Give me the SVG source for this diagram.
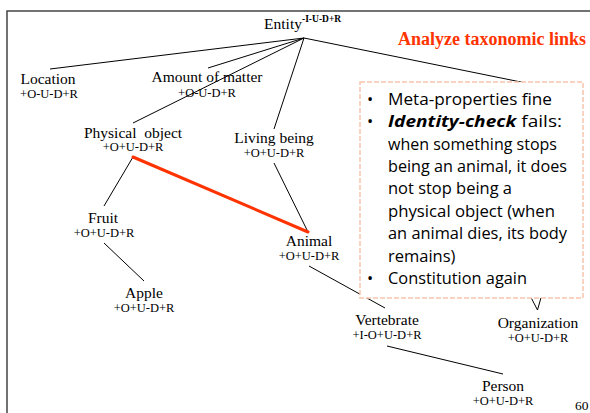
<svg xmlns="http://www.w3.org/2000/svg" width="590" height="413" viewBox="0 0 590 413">
  <style>
    .name { font-family: "Liberation Serif", "Times New Roman", serif; font-size: 15.5px; fill: #000; text-anchor: middle; }
    .code { font-family: "Liberation Serif", "Times New Roman", serif; font-size: 12.5px; fill: #000; text-anchor: middle; }
    .edge { stroke: #000; stroke-width: 1; fill: none; }
    .note { font-family: "Open Sans", "DejaVu Sans", sans-serif; font-size: 16.5px; fill: #000; }
  </style>

  <rect x="0" y="0" width="590" height="413" fill="#fff"/>

  <!-- slide frame -->
  <polyline points="7,413 7,11 590,11" fill="none" stroke="#444" stroke-width="1.5"/>

  <!-- title -->
  <text x="586" y="45" text-anchor="end" font-family="Liberation Serif, serif" font-size="18" font-weight="bold" fill="#ff3300">Analyze taxonomic links</text>

  <!-- taxonomic links -->
  <g id="connectors">
    <line class="edge" x1="304" y1="38" x2="50" y2="69"/>
    <line class="edge" x1="304" y1="38" x2="208" y2="68"/>
    <line class="edge" x1="304" y1="38" x2="133" y2="123"/>
    <line class="edge" x1="304" y1="38" x2="274" y2="129"/>
    <line class="edge" x1="304" y1="38" x2="575" y2="93"/>
    <line class="edge" x1="133" y1="157" x2="104" y2="206"/>
    <line class="edge" x1="104" y1="243" x2="144" y2="281"/>
    <line class="edge" x1="274" y1="163" x2="308" y2="232"/>
    <line class="edge" x1="309" y1="266" x2="385" y2="308"/>
    <line class="edge" x1="387" y1="346" x2="503" y2="374"/>
    <line class="edge" x1="522" y1="280" x2="537.5" y2="310"/>
    <line class="edge" x1="546" y1="280" x2="537.5" y2="310"/>
    <line x1="133" y1="157" x2="308" y2="232" stroke="#ff3300" stroke-width="3" stroke-linecap="round"/>
  </g>

  <g id="entity">
    <text class="name" x="283" y="29">Entity</text>
    <text x="302" y="22" font-family="Liberation Serif, serif" font-size="9.5" font-weight="bold">-I-U-D+R</text>
  </g>
  <g id="location">
    <text class="name" x="48" y="84">Location</text>
    <text class="code" x="49" y="98">+O-U-D+R</text>
  </g>
  <g id="amount-of-matter">
    <text class="name" x="207" y="82">Amount of matter</text>
    <text class="code" x="207" y="97">+O-U-D+R</text>
  </g>
  <g id="physical-object">
    <text class="name" x="133" y="138" xml:space="preserve">Physical  object</text>
    <text class="code" x="133" y="151">+O+U-D+R</text>
  </g>
  <g id="living-being">
    <text class="name" x="274" y="143">Living being</text>
    <text class="code" x="274" y="157">+O+U-D+R</text>
  </g>
  <g id="fruit">
    <text class="name" x="103" y="223">Fruit</text>
    <text class="code" x="104" y="237">+O+U-D+R</text>
  </g>
  <g id="animal">
    <text class="name" x="309" y="246">Animal</text>
    <text class="code" x="309" y="260">+O+U-D+R</text>
  </g>
  <g id="apple">
    <text class="name" x="144" y="298">Apple</text>
    <text class="code" x="144" y="312">+O+U-D+R</text>
  </g>
  <g id="vertebrate">
    <text class="name" x="387" y="325">Vertebrate</text>
    <text class="code" x="387" y="339">+I-O+U-D+R</text>
  </g>
  <g id="organization">
    <text class="name" x="538" y="328">Organization</text>
    <text class="code" x="538" y="342">+O+U-D+R</text>
  </g>
  <g id="person">
    <text class="name" x="503" y="391">Person</text>
    <text class="code" x="503" y="405">+O+U-D+R</text>
  </g>

  <!-- callout -->
  <g id="callout">
    <rect x="360" y="82" width="223" height="216" fill="#fff" stroke="#f9c4ae" stroke-width="1.5" stroke-dasharray="5 2"/>
    <g class="note">
      <text x="367" y="105">•</text>
      <text x="388" y="105" textLength="164" lengthAdjust="spacingAndGlyphs">Meta-properties fine</text>
      <text x="367" y="127">•</text>
      <text x="388" y="127" textLength="174" lengthAdjust="spacingAndGlyphs"><tspan font-weight="bold" font-style="italic">Identity-check</tspan> fails:</text>
      <text x="388" y="150" textLength="169" lengthAdjust="spacingAndGlyphs">when something stops</text>
      <text x="388" y="172" textLength="179" lengthAdjust="spacingAndGlyphs">being an animal, it does</text>
      <text x="388" y="194" textLength="124" lengthAdjust="spacingAndGlyphs">not stop being a</text>
      <text x="388" y="217" textLength="167" lengthAdjust="spacingAndGlyphs">physical object (when</text>
      <text x="388" y="239" textLength="179" lengthAdjust="spacingAndGlyphs">an animal dies, its body</text>
      <text x="388" y="262">remains)</text>
      <text x="367" y="284">•</text>
      <text x="388" y="284" textLength="139" lengthAdjust="spacingAndGlyphs">Constitution again</text>
    </g>
  </g>

  <text x="575" y="410" font-family="Liberation Serif, serif" font-size="13.5">60</text>
</svg>
